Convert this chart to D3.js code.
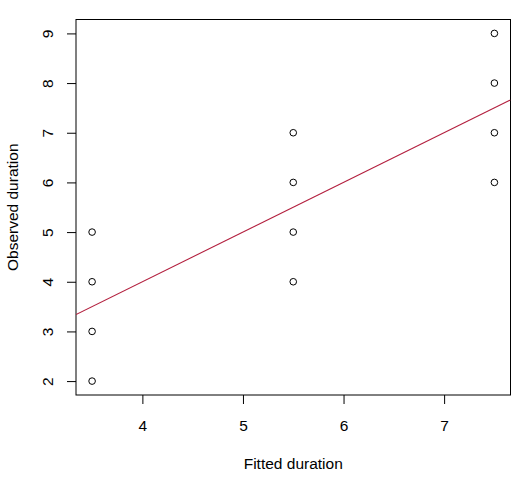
<!DOCTYPE html>
<html>
<head>
<meta charset="utf-8">
<script src="https://cdn.jsdelivr.net/npm/d3@7"></script>
<style>
  body { margin: 0; background: #fff; }
  text { font-family: "Liberation Sans", Arial, sans-serif; fill: #000; }
</style>
</head>
<body>
<svg id="main_svg" width="518" height="486"></svg>
<script>
// data
const fitted   = [3.5, 3.5, 3.5, 3.5, 5.5, 5.5, 5.5, 5.5, 7.5, 7.5, 7.5, 7.5];
const observed = [2, 3, 4, 5, 4, 5, 6, 7, 6, 7, 8, 9];
const xTicks = [4, 5, 6, 7];
const yTicks = [2, 3, 4, 5, 6, 7, 8, 9];
const refLine = [0, 1]; // intercept, slope (y = x)

const width = 518;
const height = 486;
const box = {left: 76, right: 510.5, top: 19.5, bottom: 395};
const fontSize = 15.5;

// R style 4% expansion of the range
const pad = (ext) => { const d = (ext[1] - ext[0]) * 0.04; return [ext[0] - d, ext[1] + d]; };
const xDom = pad(d3.extent(fitted));
const yDom = pad(d3.extent(observed));

const x = d3.scaleLinear().domain(xDom).range([box.left, box.right]);
const y = d3.scaleLinear().domain(yDom).range([box.bottom, box.top]);

const svg = d3.select("#main_svg");

// clip for the fitted line
svg.append("clipPath").attr("id", "plot_clip")
  .append("rect")
  .attr("x", box.left).attr("y", box.top)
  .attr("width", box.right - box.left).attr("height", box.bottom - box.top);

// x axis
const xAxis = svg.append("g")
  .attr("transform", "translate(0," + box.bottom + ")")
  .call(d3.axisBottom(x).tickValues(xTicks).tickSize(9).tickPadding(0).tickFormat(d3.format("d")));
xAxis.select(".domain").remove();
xAxis.selectAll("line").attr("stroke", "#000").attr("stroke-width", 1);
xAxis.selectAll("text")
  .attr("y", 36).attr("dy", null)
  .style("font-size", fontSize + "px");

// y axis, labels turned like R's las = 0
const yAxis = svg.append("g")
  .attr("transform", "translate(" + box.left + ",0)")
  .call(d3.axisLeft(y).tickValues(yTicks).tickSize(9).tickPadding(0).tickFormat(d3.format("d")));
yAxis.select(".domain").remove();
yAxis.selectAll("line").attr("stroke", "#000").attr("stroke-width", 1);
yAxis.selectAll("text")
  .attr("x", null).attr("dy", null)
  .attr("text-anchor", "middle")
  .attr("transform", "translate(-23,0) rotate(-90)")
  .style("font-size", fontSize + "px");

// plot box
svg.append("rect")
  .attr("x", box.left).attr("y", box.top)
  .attr("width", box.right - box.left).attr("height", box.bottom - box.top)
  .attr("fill", "none").attr("stroke", "#000").attr("stroke-width", 1);

// y = x reference line
svg.append("line")
  .attr("clip-path", "url(#plot_clip)")
  .attr("x1", x(xDom[0])).attr("y1", y(refLine[0] + refLine[1] * xDom[0]))
  .attr("x2", x(xDom[1])).attr("y2", y(refLine[0] + refLine[1] * xDom[1]))
  .attr("stroke", "#b3203f").attr("stroke-width", 1.1);

// points
svg.append("g").selectAll("circle")
  .data(fitted.map((f, i) => ({x: f, y: observed[i]})))
  .enter().append("circle")
  .attr("cx", d => x(d.x)).attr("cy", d => y(d.y))
  .attr("r", 3.3)
  .attr("fill", "none").attr("stroke", "#000").attr("stroke-width", 1);

// axis titles
svg.append("text")
  .attr("x", (box.left + box.right) / 2).attr("y", 469)
  .attr("text-anchor", "middle")
  .style("font-size", fontSize + "px")
  .text("Fitted duration");

svg.append("text")
  .attr("transform", "translate(18," + ((box.top + box.bottom) / 2) + ") rotate(-90)")
  .attr("text-anchor", "middle")
  .style("font-size", fontSize + "px")
  .text("Observed duration");
</script>
</body>
</html>
